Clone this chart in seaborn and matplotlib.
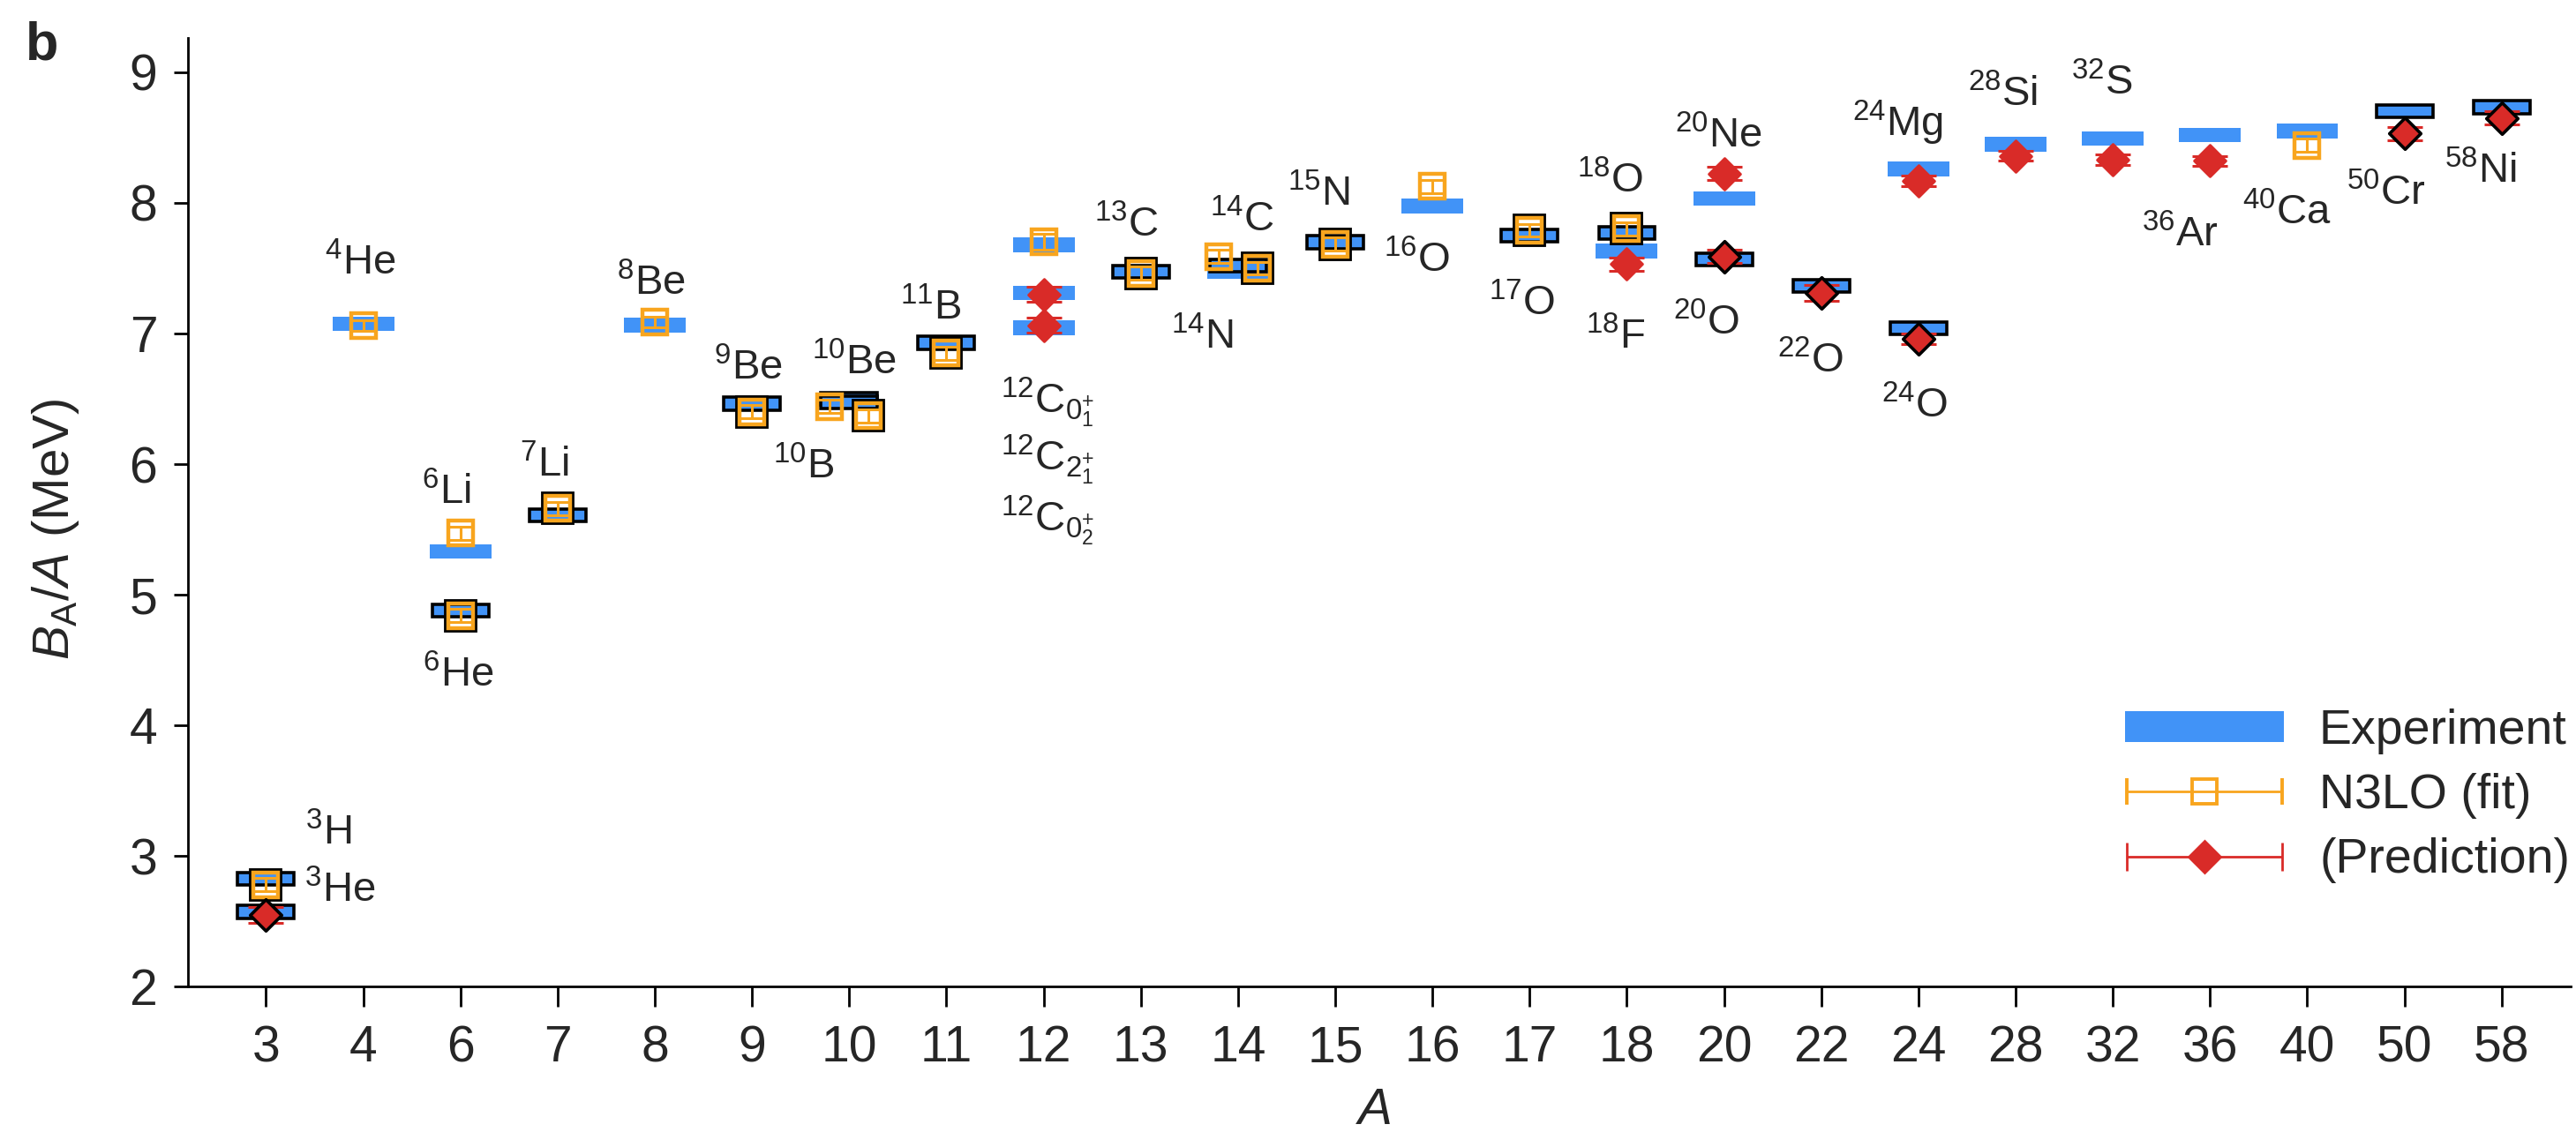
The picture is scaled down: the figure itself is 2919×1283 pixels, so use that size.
import numpy as np
import pandas as pd
import matplotlib
matplotlib.use("Agg")
import matplotlib.pyplot as plt
import seaborn as sns
from matplotlib.patches import Patch
from matplotlib.legend_handler import HandlerErrorbar
from matplotlib.container import ErrorbarContainer

# ---------------- data ----------------
mass_numbers = [3, 4, 6, 7, 8, 9, 10, 11, 12, 13, 14, 15, 16, 17, 18, 20, 22, 24, 28, 32, 36, 40, 50, 58]

# Experiment (bars)
exp_A = [3, 3, 4, 6, 6, 7, 8, 9, 10, 10, 11, 12, 12, 12, 13, 14, 14, 15, 16, 17, 18, 18,
         20, 20, 22, 24, 24, 28, 32, 36, 40, 50, 58]
exp_BA = [2.827, 2.573, 7.074, 5.332, 4.878, 5.606, 7.062, 6.463, 6.498, 6.475, 6.928,
          7.680, 7.310, 7.042, 7.470, 7.520, 7.476, 7.699, 7.976, 7.751, 7.767, 7.632,
          8.032, 7.568, 7.365, 8.261, 7.040, 8.448, 8.493, 8.520, 8.551, 8.701, 8.732]
exp_in_fit = [True, True, False, False, True, True, False, True, True, True, True,
              False, False, False, True, True, False, True, False, True, True, False,
              False, True, True, False, True, False, False, False, False, True, True]

# N3LO (fit) squares
fit_A = [3, 4, 6, 6, 7, 8, 9, 10, 10, 11, 12, 13, 14, 14, 15, 16, 17, 18, 40]
fit_BA = [2.78, 7.06, 5.47, 4.84, 5.66, 7.09, 6.40, 6.44, 6.37, 6.85, 7.70, 7.46,
          7.59, 7.50, 7.685, 8.125, 7.79, 7.80, 8.44]
fit_err = [0.05, 0.04, 0.05, 0.05, 0.05, 0.04, 0.05, 0.05, 0.05, 0.05, 0.06, 0.05,
           0.05, 0.05, 0.05, 0.05, 0.05, 0.05, 0.05]
fit_in_fit = [True, False, False, True, True, False, True, False, True, True, False, True,
              False, True, True, False, True, True, False]
fit_dx = [0, 0, 0, 0, 0, 0, 0, -0.2, 0.2, 0, 0, 0, -0.2, 0.2, 0, 0, 0, 0, 0]

# Prediction diamonds
pred_A = [3, 12, 12, 18, 20, 20, 22, 24, 24, 28, 32, 36, 50, 58]
pred_BA = [2.547, 7.30, 7.063, 7.53, 8.224, 7.59, 7.31, 8.17, 6.96, 8.36, 8.33, 8.32, 8.53, 8.65]
pred_err = [0.06, 0.06, 0.06, 0.05, 0.05, 0.05, 0.06, 0.04, 0.04, 0.04, 0.04, 0.04, 0.05, 0.05]
pred_in_fit = [True, False, False, False, False, True, True, False, True, False, False, False, True, True]

# nuclide labels: text, anchor x (category index units), anchor y (MeV), alignment
labels = [r"$^{3}$H", r"$^{3}$He", r"$^{4}$He", r"$^{6}$Li", r"$^{6}$He", r"$^{7}$Li",
          r"$^{8}$Be", r"$^{9}$Be", r"$^{10}$Be", r"$^{10}$B", r"$^{11}$B",
          r"$^{12}$C$_{0^{+}_{1}}$", r"$^{12}$C$_{2^{+}_{1}}$", r"$^{12}$C$_{0^{+}_{2}}$",
          r"$^{13}$C", r"$^{14}$C", r"$^{14}$N", r"$^{15}$N", r"$^{16}$O", r"$^{17}$O",
          r"$^{18}$O", r"$^{18}$F", r"$^{20}$Ne", r"$^{20}$O", r"$^{22}$O", r"$^{24}$Mg",
          r"$^{24}$O", r"$^{28}$Si", r"$^{32}$S", r"$^{36}$Ar", r"$^{40}$Ca", r"$^{50}$Cr",
          r"$^{58}$Ni"]
label_x = [0.64, 0.76, 0.966, 1.86, 1.98, 2.86, 3.96, 4.96, 6.05, 5.53, 6.84,
           7.557, 7.557, 7.557, 8.85, 10.04, 9.63, 10.83, 11.84, 12.92, 13.83, 13.88,
           14.94, 14.82, 15.89, 16.79, 16.96, 17.87, 18.89, 19.69, 20.79, 21.81, 22.78]
label_y = [3.089, 2.647, 7.452, 5.693, 4.294, 5.904, 7.291, 6.643, 6.689, 5.889, 7.104,
           6.39, 5.955, 5.488, 7.743, 7.782, 6.884, 7.978, 7.472, 7.141, 8.075, 6.884,
           8.421, 6.989, 6.703, 8.512, 6.356, 8.738, 8.829, 7.668, 7.833, 7.985, 8.15]
label_ha = ["center"] * 11 + ["left"] * 3 + ["center"] * 19

# ---------------- style ----------------
sns.set_theme(style="ticks")
plt.rcParams["font.family"] = ["Liberation Sans", "DejaVu Sans"]
plt.rcParams["mathtext.fontset"] = "custom"
plt.rcParams["mathtext.rm"] = "Liberation Sans"
plt.rcParams["mathtext.it"] = "Liberation Sans:italic"
plt.rcParams["mathtext.bf"] = "Liberation Sans:bold"

BLUE = "#4193F7"
ORANGE = "#F8A51E"
RED = "#D92B28"

fig = plt.figure(figsize=(14.595, 6.415), dpi=200)
ax = fig.add_axes([0.07307, 0.12837, 0.99794 - 0.07307, 0.96625 - 0.12837])

idx = {a: i for i, a in enumerate(mass_numbers)}

# Experiment bars
bar_h = 0.113
ex = np.array([idx[a] for a in exp_A], dtype=float)
ey = np.array(exp_BA)
ein = np.array(exp_in_fit)
ax.bar(ex[~ein], bar_h, bottom=ey[~ein] - bar_h / 2, width=0.635, color=BLUE,
       edgecolor="none", zorder=1)
ax.bar(ex[ein], bar_h * 0.85, bottom=ey[ein] - bar_h * 0.85 / 2, width=0.58, color=BLUE,
       edgecolor="black", linewidth=1.3, zorder=1.5)

# N3LO squares
fx = np.array([idx[a] for a in fit_A], dtype=float) + np.array(fit_dx)
fy = np.array(fit_BA)
fe = np.array(fit_err)
fin = np.array(fit_in_fit)
SQ = 9.8
ax.plot(fx[fin], fy[fin], ls="none", marker="s", ms=SQ + 1.5, mfc="none", mec="black",
        mew=2.1, zorder=3)
ax.errorbar(fx, fy, yerr=fe, fmt="none", ecolor=ORANGE, elinewidth=1.1, capsize=4.8,
            capthick=1.1, zorder=3.5)
ax.plot(fx, fy, ls="none", marker="s", ms=SQ, mfc="none", mec=ORANGE, mew=1.6, zorder=4)

# Prediction diamonds
px = np.array([idx[a] for a in pred_A], dtype=float)
py = np.array(pred_BA)
ax.errorbar(px, py, yerr=np.array(pred_err), fmt="none", ecolor=RED, elinewidth=1.1,
            capsize=7.2, capthick=1.1, zorder=5)
pred_df = pd.DataFrame({"x": px, "y": py, "fit": pred_in_fit})
sns.scatterplot(data=pred_df[~pred_df["fit"]], x="x", y="y", marker="D", s=82, color=RED,
                edgecolor=RED, linewidth=1.1, ax=ax, zorder=6, legend=False)
sns.scatterplot(data=pred_df[pred_df["fit"]], x="x", y="y", marker="D", s=82, color=RED,
                edgecolor="black", linewidth=1.3, ax=ax, zorder=6, legend=False)

# labels
for t, lx, ly, ha in zip(labels, label_x, label_y, label_ha):
    ax.text(lx, ly, t, ha=ha, va="baseline", fontsize=17, zorder=7)

# axes
ax.set_xlim(-0.80, 23.71)
ax.set_ylim(2, 9.26)
ax.set_xticks(range(len(mass_numbers)))
ax.set_xticklabels([str(a) for a in mass_numbers])
ax.set_yticks(range(2, 10))
ax.tick_params(axis="x", length=8.3, width=1.0, pad=7.2, labelsize=20.5, color="black")
ax.tick_params(axis="y", length=5.8, width=1.0, pad=6.8, labelsize=20.5, color="black")
sns.despine(ax=ax)
for s in ("left", "bottom"):
    ax.spines[s].set_linewidth(1.0)
    ax.spines[s].set_color("black")
ax.set_xlabel(r"$A$", fontsize=21)
ax.xaxis.set_label_coords(0.4974, -0.1058)
ax.set_ylabel(r"$B_{\mathrm{A}}/A$ (MeV)", fontsize=21)
ax.yaxis.label.set_va("center")
ax.yaxis.set_label_coords(-0.0557, 0.482)
ax.set_facecolor("white")
ax.grid(False)

# legend
sq_leg = ax.errorbar([np.nan], [np.nan], xerr=[1.0], fmt="s", color=ORANGE, ms=SQ,
                     mfc="none", mec=ORANGE, mew=1.4, elinewidth=1.0, capsize=5.5, capthick=1.0)
dm_leg = ax.errorbar([np.nan], [np.nan], xerr=[1.0], fmt="D", color=RED, ms=9.0,
                     mfc=RED, mec=RED, mew=1.0, elinewidth=1.0, capsize=5.8, capthick=1.0)
handles = [Patch(facecolor=BLUE, edgecolor="none"), sq_leg, dm_leg]
leg = ax.legend(handles, ["Experiment", "N3LO (fit)", "(Prediction)"],
                loc="upper left", bbox_to_anchor=(2408 / 2919, 1 - 803 / 1283),
                bbox_transform=fig.transFigure, frameon=False, fontsize=20,
                handlelength=3.24, handleheight=0.61, handletextpad=0.72,
                labelspacing=0.38, borderpad=0, borderaxespad=0, numpoints=1,
                handler_map={ErrorbarContainer: HandlerErrorbar(xerr_size=1.58)})

fig.text(29 / 2919, 1 - 68 / 1283, "b", fontsize=22, fontweight="bold", va="baseline")

fig.savefig("out.png", dpi=200, facecolor="white")
